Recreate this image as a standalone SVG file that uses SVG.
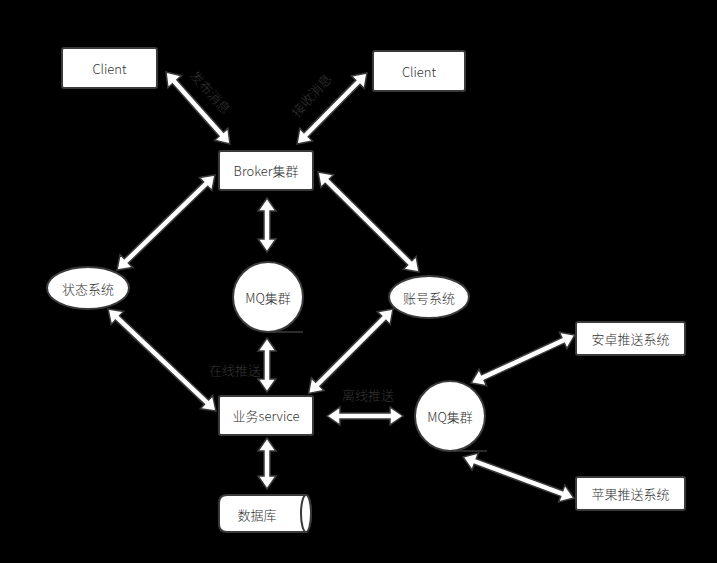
<svg xmlns="http://www.w3.org/2000/svg" width="717" height="563" viewBox="0 0 717 563">
<style>
.box{fill:#fff;stroke:#3a3a3a;stroke-width:2}
.t{font-family:"Noto Sans CJK SC","Noto Sans",sans-serif;font-size:13px;font-weight:300;fill:#333;text-anchor:middle;dominant-baseline:central}
.lbl{font-family:"Noto Sans CJK SC","Noto Sans",sans-serif;font-size:13px;font-weight:300;fill:#363636;text-anchor:middle;dominant-baseline:central}
.arr{fill:#fff;stroke:#3a3a3a;stroke-width:1.5;stroke-linejoin:miter}
.ln{stroke:#3a3a3a;stroke-width:1.5;fill:none}
</style>
<rect width="717" height="563" fill="#000"/>
<g id="connectors">
<path class="arr" transform="translate(166,72) rotate(48.4)" d="M0,0 L13,-9 L13,-3 L83.3,-3 L83.3,-9 L96.3,0 L83.3,9 L83.3,3 L13,3 L13,9 Z"/>
<path class="arr" transform="translate(367,73) rotate(134.6)" d="M0,0 L13,-9 L13,-3 L86.7,-3 L86.7,-9 L99.7,0 L86.7,9 L86.7,3 L13,3 L13,9 Z"/>
<path class="arr" transform="translate(215,175) rotate(135.9)" d="M0,0 L13,-9 L13,-3 L123.5,-3 L123.5,-9 L136.5,0 L123.5,9 L123.5,3 L13,3 L13,9 Z"/>
<path class="arr" transform="translate(267,198) rotate(90)" d="M0,0 L13,-9 L13,-3 L41,-3 L41,-9 L54,0 L41,9 L41,3 L13,3 L13,9 Z"/>
<path class="arr" transform="translate(318,172) rotate(44.7)" d="M0,0 L13,-9 L13,-3 L129.1,-3 L129.1,-9 L142.1,0 L129.1,9 L129.1,3 L13,3 L13,9 Z"/>
<path class="arr" transform="translate(108,309) rotate(43.4)" d="M0,0 L13,-9 L13,-3 L135.6,-3 L135.6,-9 L148.6,0 L135.6,9 L135.6,3 L13,3 L13,9 Z"/>
<path class="arr" transform="translate(393,309) rotate(135)" d="M0,0 L13,-9 L13,-3 L106.4,-3 L106.4,-9 L119.4,0 L106.4,9 L106.4,3 L13,3 L13,9 Z"/>
<path class="arr" transform="translate(267,338) rotate(90)" d="M0,0 L13,-9 L13,-3 L41,-3 L41,-9 L54,0 L41,9 L41,3 L13,3 L13,9 Z"/>
<path class="arr" transform="translate(327,416)" d="M0,0 L13,-9 L13,-3 L63,-3 L63,-9 L76,0 L63,9 L63,3 L13,3 L13,9 Z"/>
<path class="arr" transform="translate(267,438) rotate(90)" d="M0,0 L13,-9 L13,-3 L38,-3 L38,-9 L51,0 L38,9 L38,3 L13,3 L13,9 Z"/>
<path class="arr" transform="translate(471,383) rotate(-24.8)" d="M0,0 L13,-9 L13,-3 L101.5,-3 L101.5,-9 L114.5,0 L101.5,9 L101.5,3 L13,3 L13,9 Z"/>
<path class="arr" transform="translate(463,457) rotate(20.3)" d="M0,0 L13,-9 L13,-3 L105.3,-3 L105.3,-9 L118.3,0 L105.3,9 L105.3,3 L13,3 L13,9 Z"/>
<text class="lbl" transform="translate(211,92) rotate(48)">发布消息</text>
<text class="lbl" transform="translate(311,95) rotate(-48)">接收消息</text>
<text class="lbl" x="235" y="369">在线推送</text>
<text class="lbl" x="368" y="394">离线推送</text>
</g>
<g id="client1"><rect class="box" x="62" y="48" width="95" height="40" rx="2"/><text class="t" x="109.5" y="68">Client</text></g>
<g id="client2"><rect class="box" x="373" y="51" width="92" height="40" rx="2"/><text class="t" x="419" y="71">Client</text></g>
<g id="broker"><rect class="box" x="219" y="151" width="94" height="39" rx="2"/><text class="t" x="266" y="170.5">Broker集群</text></g>
<g id="status"><ellipse class="box" cx="88" cy="288" rx="41" ry="21"/><text class="t" x="88" y="288">状态系统</text></g>
<g id="mq1"><circle class="box" cx="268" cy="297" r="35"/><line class="ln" x1="268" y1="332" x2="303" y2="332"/><text class="t" x="268" y="297">MQ集群</text></g>
<g id="account"><ellipse class="box" cx="429" cy="297" rx="40" ry="21"/><text class="t" x="429" y="297">账号系统</text></g>
<g id="service"><rect class="box" x="219" y="396" width="94" height="39" rx="2"/><text class="t" x="266" y="415.5">业务service</text></g>
<g id="db"><path class="box" d="M227,495 H306 A5,18.5 0 0 1 306,532 H227 Q219,532 219,524 V503 Q219,495 227,495 Z"/><ellipse class="box" cx="306" cy="513.5" rx="5" ry="18.5"/><text class="t" x="257" y="514">数据库</text></g>
<g id="mq2"><circle class="box" cx="450" cy="416" r="35"/><line class="ln" x1="450" y1="451" x2="487" y2="451"/><text class="t" x="450" y="416">MQ集群</text></g>
<g id="android"><rect class="box" x="576" y="322" width="109" height="33" rx="2"/><text class="t" x="630.5" y="338.5">安卓推送系统</text></g>
<g id="apple"><rect class="box" x="576" y="477" width="109" height="33" rx="2"/><text class="t" x="630.5" y="493.5">苹果推送系统</text></g>
</svg>
